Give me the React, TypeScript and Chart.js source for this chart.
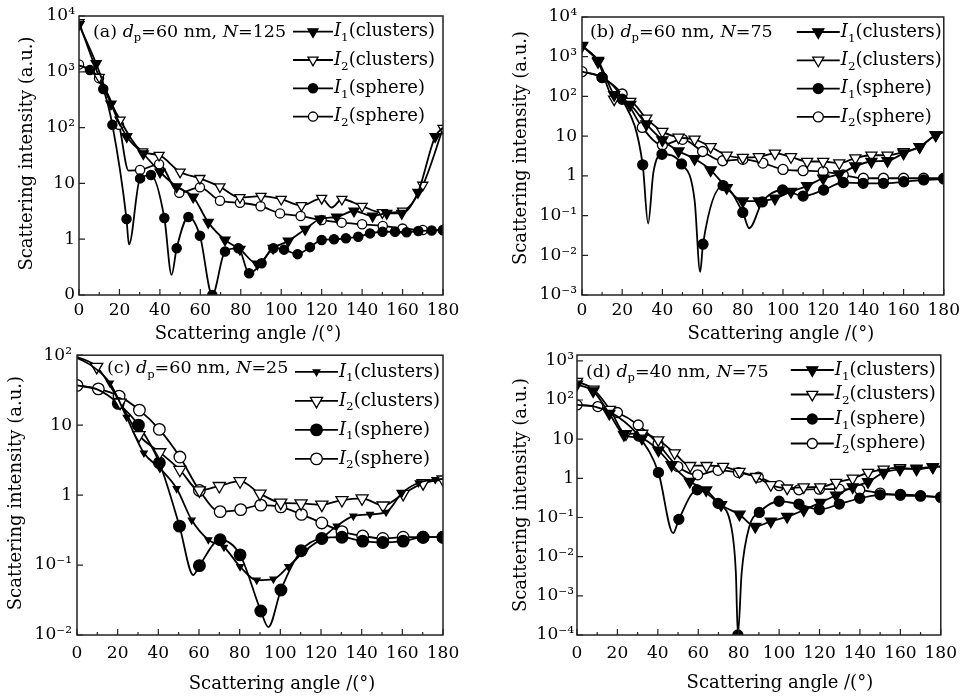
import React, { useEffect, useRef } from 'react';
import { Chart, registerables } from 'chart.js';

Chart.register(...registerables);

const FONT = "'DejaVu Serif', 'Liberation Serif', serif";

// ---------------- Panel (a) dp=60 nm, N=125 ----------------
const aI1cX = [0, 8.5, 15.8, 23.6, 31.8, 40.1, 48.3, 56.5, 63.9, 72.2, 79.6, 88.2, 96, 103.5, 111.8, 119.2, 127.4, 136, 145.2, 152.2, 159.6, 167.6, 176.1];
const aI1cY = [7000, 1400, 265, 69, 34, 16, 8.7, 5.7, 2.0, 0.97, 0.66, 0.36, 0.69, 0.93, 1.5, 2.3, 2.5, 3.2, 2.6, 2.9, 2.9, 6.9, 69];
const aI1cExX = [180];
const aI1cExY = [100];
const aI2cX = [0, 10, 20.3, 31.5, 39.6, 50, 59.8, 69.7, 79.6, 90, 100, 110, 120, 130, 140, 150, 160, 170, 180];
const aI2cY = [7600, 800, 137, 37, 32, 16, 12.3, 8.7, 5.6, 5.9, 5.2, 4.0, 5.4, 5.2, 3.9, 3.0, 3.2, 9.3, 97];
const aI2cExX = [125];
const aI2cExY = [3.7];
const aI1sX = [5.4, 12, 16.5, 23.5, 30.2, 35.6, 42.2, 48.3, 54.1, 59.8, 65.9, 72.2, 78.8, 84.1, 90.3, 96.1, 101.4, 108.1, 114.2, 120, 126.1, 132, 138.1, 143.9, 150.1, 156.3, 162, 167.8, 174.4, 180];
const aI1sY = [1080, 490, 112, 2.3, 12.3, 14.1, 2.4, 0.69, 2.5, 1.15, 0.1, 0.6, 0.69, 0.245, 0.37, 0.69, 0.65, 0.54, 0.72, 0.97, 1.0, 1.04, 1.11, 1.27, 1.36, 1.36, 1.33, 1.4, 1.43, 1.45];
const aI1sExX = [0, 24.7, 45.8];
const aI1sExY = [1300, 0.8, 0.23];
const aI2sX = [0, 9.9, 19.8, 30.2, 39.6, 49.6, 59.8, 69.7, 79.6, 89.8, 99.4, 109.6, 120, 129.9, 140, 150.2, 160, 170, 180];
const aI2sY = [1350, 770, 112, 17.4, 22, 6.8, 8.5, 4.9, 4.5, 3.9, 2.9, 2.6, 2.2, 1.98, 1.85, 1.73, 1.55, 1.46, 1.46];
const aI2sExX = [24.5];
const aI2sExY = [17];
const aYTicks = [0.1, 1, 10, 100, 1000, 10000];
const aYLabels = ['0', '1', '10', '10²', '10³', '10⁴'];

// ---------------- Panel (b) dp=60 nm, N=75 ----------------
const bI1cX = [0, 8, 16, 24, 32, 40, 48, 56, 64, 72, 80, 88, 96, 104, 112, 120, 128, 136, 144, 152, 160, 168, 176];
const bI1cY = [1900, 800, 110, 62, 20, 8, 4.2, 2.7, 1.4, 0.5, 0.23, 0.23, 0.27, 0.4, 0.56, 0.87, 1.1, 1.75, 2.3, 2.4, 3.7, 5.4, 10.7];
const bI1cExX = [180];
const bI1cExY = [12.6];
const bI2cX = [0, 8, 16, 24, 32, 40, 48, 56, 64, 72, 80, 88, 96, 104, 112, 120, 128, 136, 144, 152, 160, 168, 176];
const bI2cY = [1860, 740, 85, 74, 28, 13, 9.3, 8.3, 5.4, 3.3, 2.9, 3.0, 3.7, 3.0, 2.3, 2.3, 2.1, 2.8, 3.3, 3.3, 4.0, 5.4, 10.7];
const bI2cExX = [180];
const bI2cExY = [12.6];
const bI1sX = [10, 20, 30.2, 39.8, 49.5, 60.2, 70.2, 80, 89.7, 99.8, 110, 120.2, 130, 139.9, 150, 160.1, 170, 180];
const bI1sY = [300, 85, 1.9, 3.5, 2.0, 0.019, 0.57, 0.12, 0.22, 0.44, 0.31, 0.44, 0.68, 0.65, 0.65, 0.71, 0.79, 0.83];
const bI1sExX = [0, 32.9, 35.5, 56, 58.8, 83.2];
const bI1sExY = [420, 0.063, 1.2, 0.25, 0.0038, 0.048];
const bI2sX = [0, 10, 20, 30, 40, 50, 60, 70, 80, 90, 100, 110, 120, 130, 140, 150, 160, 170, 180];
const bI2sY = [420, 300, 115, 16.6, 6.0, 8.3, 4.1, 2.4, 2.6, 2.1, 1.45, 1.35, 1.28, 1.05, 0.87, 0.87, 0.87, 0.87, 0.87];
const bYTicks = [1e-3, 1e-2, 0.1, 1, 10, 100, 1000, 10000];
const bYLabels = ['10⁻³', '10⁻²', '10⁻¹', '1', '10', '10²', '10³', '10⁴'];

// ---------------- Panel (c) dp=60 nm, N=25 ----------------
const cI1cX = [16.2, 24.4, 32.9, 40.8, 49, 56.4, 64.6, 72.3, 80.2, 88.4, 96.6, 103.9, 112.2, 119.5, 127.7, 135.9, 144.1, 152, 159.7, 168, 176.2];
const cI1cY = [40, 13, 4, 2.4, 1.24, 0.44, 0.23, 0.18, 0.095, 0.061, 0.063, 0.095, 0.16, 0.23, 0.36, 0.5, 0.53, 0.57, 1.06, 1.5, 1.67];
const cI1cExX = [0, 8, 180];
const cI1cExY = [92, 68, 1.7];
const cI2cX = [9.7, 21.2, 30.5, 40.7, 50.6, 60.2, 70, 80.2, 90, 100.2, 110.2, 120.4, 130.3, 140.2, 150.5, 160.4, 170.2, 180];
const cI2cY = [68, 21, 7.2, 4.1, 2.3, 1.17, 1.35, 1.58, 1.05, 0.78, 0.76, 0.73, 0.85, 0.9, 0.71, 1.04, 1.48, 1.67];
const cI2cExX = [0];
const cI2cExY = [95];
const cI1sX = [20.3, 30.2, 40.5, 50.4, 60.2, 70.4, 80.2, 90.4, 100.3, 110.2, 120.4, 130.3, 140.5, 150.4, 160.4, 170.2, 180];
const cI1sY = [20.5, 10, 2.9, 0.36, 0.098, 0.23, 0.14, 0.022, 0.044, 0.16, 0.24, 0.25, 0.22, 0.21, 0.22, 0.25, 0.25];
const cI1sExX = [0, 10.5, 57.2, 94.1];
const cI1sExY = [37, 32, 0.072, 0.013];
const cI2sX = [0, 10.5, 20.7, 30.7, 40.5, 50.6, 60.2, 70.4, 80.5, 90.4, 100.3, 110.4, 120.4, 130.3, 140.5, 150.4, 160.4, 170.2, 180];
const cI2sY = [37, 33, 26, 16.4, 8.7, 3.5, 1.17, 0.58, 0.62, 0.72, 0.68, 0.53, 0.4, 0.3, 0.26, 0.24, 0.25, 0.25, 0.25];
const cYTicks = [0.01, 0.1, 1, 10, 100];
const cYLabels = ['10⁻²', '10⁻¹', '1', '10', '10²'];

// ---------------- Panel (d) dp=40 nm, N=75 ----------------
const dI1cX = [0, 8, 16, 23.2, 32.1, 40.3, 46.8, 55.8, 63.9, 71.3, 80.4, 88.2, 95.9, 104, 112.2, 120.4, 128.2, 136.4, 144, 151.7, 159.8, 168, 176];
const dI1cY = [250, 170, 45, 13, 10.5, 5.2, 2.2, 0.83, 0.5, 0.21, 0.12, 0.059, 0.08, 0.105, 0.155, 0.24, 0.37, 0.6, 0.81, 1.4, 1.7, 1.8, 1.95];
const dI1cExX = [180];
const dI1cExY = [2.0];
const dI2cX = [0, 8.2, 16.3, 24.2, 32.3, 40.2, 48.3, 56, 64.1, 72.3, 80.4, 88.6, 95.9, 104, 112.2, 120.4, 128.2, 136.4, 144, 151.7, 159.8, 168, 176.1];
const dI2cY = [295, 187, 57, 13.6, 14, 9.5, 4.4, 2.1, 2.1, 2.0, 1.48, 1.1, 0.68, 0.56, 0.6, 0.6, 0.78, 1.0, 1.4, 1.7, 1.85, 1.7, 1.95];
const dI2cExX = [180];
const dI2cExY = [2.0];
const dI1sX = [30.5, 40.3, 50.4, 59.5, 69.8, 79.6, 90.2, 100, 109.8, 119.9, 129.8, 139.9, 150, 160, 170, 180];
const dI1sY = [12, 1.4, 0.09, 0.51, 0.23, 0.0001, 0.135, 0.26, 0.22, 0.16, 0.22, 0.31, 0.38, 0.39, 0.36, 0.33];
const dI1sExX = [0, 10, 20, 47.6, 76.3, 78.6, 81.5, 85.3];
const dI1sExY = [75, 65, 38, 0.04, 0.059, 0.004, 0.004, 0.059];
const dI2sX = [0, 10.3, 20, 30.3, 40.1, 49.9, 59.7, 69.8, 79.9, 89.7, 100, 109.8, 119.9, 129.8, 139.9, 150, 160, 170, 180];
const dI2sY = [75, 68, 48, 23, 7.6, 2.0, 1.23, 1.6, 1.4, 1.07, 0.65, 0.51, 0.53, 0.53, 0.51, 0.42, 0.37, 0.35, 0.33];
const dYTicks = [1e-4, 1e-3, 1e-2, 0.1, 1, 10, 100, 1000];
const dYLabels = ['10⁻⁴', '10⁻³', '10⁻²', '10⁻¹', '1', '10', '10²', '10³'];

// ---------------- text ----------------
const seriesNames = ['(clusters)', '(clusters)', '(sphere)', '(sphere)'];
const seriesSubs = ['1', '2', '1', '2'];
const panelTags = ['(a)', '(b)', '(c)', '(d)'];
const panelDp = ['60', '60', '60', '40'];
const panelN = ['125', '75', '25', '75'];
const xTitle = 'Scattering angle /(°)';
const yTitle = 'Scattering intensity (a.u.)';

function pts(xs: number[], ys: number[], ex: number[] = [], ey: number[] = []) {
  const p: any[] = xs.map((x, i) => ({ x, y: ys[i], m: true }));
  ex.forEach((x, i) => p.push({ x, y: ey[i], m: false }));
  p.sort((a, b) => a.x - b.x);
  return p;
}

const panels: any[] = [
  {
    idx: 0, left: 0, top: 0, w: 480, h: 360, yW: 79, padTop: 16, padRight: 37, xH: 65,
    yMin: 0.1, yMax: 10000, yTicks: aYTicks, yLabels: aYLabels, xPad: 5, yPad: 4,
    rTri: 5.8, rTriSmall: 5.8, rCirc: 4.6,
    tagDx: 14, tagDy: 16, legDx: 150, legDy: 15.7, legGap: 28.3, legLen: 40,
    xtDx: -13, xtDy: 39, ytX: 27, ytDy: -2,
    series: [pts(aI1cX, aI1cY, aI1cExX, aI1cExY), pts(aI2cX, aI2cY, aI2cExX, aI2cExY), pts(aI1sX, aI1sY, aI1sExX, aI1sExY), pts(aI2sX, aI2sY, aI2sExX, aI2sExY)],
  },
  {
    idx: 1, left: 480, top: 0, w: 485, h: 360, yW: 102, padTop: 17, padRight: 18, xH: 65,
    yMin: 1e-3, yMax: 1e4, yTicks: bYTicks, yLabels: bYLabels, xPad: 5, yPad: 5,
    rTri: 6.4, rTriSmall: 6.4, rCirc: 5,
    tagDx: 8, tagDy: 15, legDx: 147, legDy: 15, legGap: 28.3, legLen: 43,
    xtDx: 18, xtDy: 39, ytX: 41, ytDy: -8,
    series: [pts(bI1cX, bI1cY, bI1cExX, bI1cExY), pts(bI2cX, bI2cY, bI2cExX, bI2cExY), pts(bI1sX, bI1sY, bI1sExX, bI1sExY), pts(bI2sX, bI2sY)],
  },
  {
    idx: 2, left: 0, top: 340, w: 480, h: 357, yW: 77, padTop: 15, padRight: 37, xH: 62,
    yMin: 0.01, yMax: 100, yTicks: cYTicks, yLabels: cYLabels, xPad: 8, yPad: 5,
    rTri: 7, rTriSmall: 3.8, rCirc: 5.8,
    tagDx: 30, tagDy: 13, legDx: 148, legDy: 16.7, legGap: 29, legLen: 43,
    xtDx: 22, xtDy: 49, ytX: 16, ytDy: -2,
    series: [pts(cI1cX, cI1cY, cI1cExX, cI1cExY), pts(cI2cX, cI2cY, cI2cExX, cI2cExY), pts(cI1sX, cI1sY, cI1sExX, cI1sExY), pts(cI2sX, cI2sY)],
  },
  {
    idx: 3, left: 480, top: 340, w: 485, h: 357, yW: 97, padTop: 15, padRight: 20, xH: 62,
    yMin: 1e-4, yMax: 1410, yTicks: dYTicks, yLabels: dYLabels, xPad: 8, yPad: 3,
    rTri: 6.4, rTriSmall: 6.4, rCirc: 5,
    tagDx: 9, tagDy: 17, legDx: 150, legDy: 15, legGap: 24.5, legLen: 43,
    xtDx: 21, xtDy: 48, ytX: 41, ytDy: 0,
    series: [pts(dI1cX, dI1cY, dI1cExX, dI1cExY), pts(dI2cX, dI2cY, dI2cExX, dI2cExY), pts(dI1sX, dI1sY, dI1sExX, dI1sExY), pts(dI2sX, dI2sY)],
  },
];

const kinds = [
  { tri: true, filled: true, small: true },
  { tri: true, filled: false, small: false },
  { tri: false, filled: true, small: false },
  { tri: false, filled: false, small: false },
];

function drawMarker(ctx: CanvasRenderingContext2D, tri: boolean, x: number, y: number, r: number, filled: boolean) {
  ctx.beginPath();
  if (tri) {
    let rad = Math.PI;
    ctx.moveTo(x + Math.sin(rad) * r, y - Math.cos(rad) * r);
    rad += (2 * Math.PI) / 3;
    ctx.lineTo(x + Math.sin(rad) * r, y - Math.cos(rad) * r);
    rad += (2 * Math.PI) / 3;
    ctx.lineTo(x + Math.sin(rad) * r, y - Math.cos(rad) * r);
    ctx.closePath();
  } else {
    ctx.arc(x, y, r, 0, Math.PI * 2);
  }
  ctx.fillStyle = filled ? '#000' : '#fff';
  ctx.fill();
  ctx.lineWidth = 1.3;
  ctx.strokeStyle = '#000';
  ctx.stroke();
}

function drawRich(ctx: CanvasRenderingContext2D, x: number, y: number, segs: any[], size: number) {
  let cx = x;
  for (const s of segs) {
    const fs = s.sub ? size * 0.66 : size;
    ctx.font = `${s.it ? 'italic ' : ''}${fs}px ${FONT}`;
    ctx.fillText(s.t, cx, s.sub ? y + size * 0.36 : y);
    cx += ctx.measureText(s.t).width;
  }
}

function makeDecor(cfg: any) {
  return {
    id: 'decor' + cfg.idx,
    afterDraw(chart: any) {
      const { ctx, chartArea: a, scales } = chart;
      ctx.save();
      ctx.strokeStyle = '#222';
      ctx.lineWidth = 1.5;
      ctx.strokeRect(a.left, a.top, a.right - a.left, a.bottom - a.top);
      ctx.lineWidth = 1.2;
      ctx.beginPath();
      for (let v = 0; v <= 180; v += 10) {
        const px = scales.x.getPixelForValue(v);
        const len = v % 20 === 0 ? 6 : 3;
        ctx.moveTo(px, a.bottom);
        ctx.lineTo(px, a.bottom - len);
      }
      for (const v of cfg.yTicks) {
        const py = scales.y.getPixelForValue(v);
        ctx.moveTo(a.left, py);
        ctx.lineTo(a.left + 6, py);
      }
      ctx.stroke();

      ctx.fillStyle = '#000';
      ctx.textBaseline = 'middle';
      ctx.textAlign = 'left';
      const i = cfg.idx;
      drawRich(ctx, a.left + cfg.tagDx, a.top + cfg.tagDy, [
        { t: panelTags[i] + ' ' },
        { t: 'd', it: true },
        { t: 'p', sub: true },
        { t: '=' + panelDp[i] + ' nm, ' },
        { t: 'N', it: true },
        { t: '=' + panelN[i] },
      ], 17.5);

      for (let k = 0; k < 4; k++) {
        const y = a.top + cfg.legDy + k * cfg.legGap;
        const x0 = a.right - cfg.legDx;
        ctx.strokeStyle = '#000';
        ctx.lineWidth = 1.8;
        ctx.beginPath();
        ctx.moveTo(x0, y);
        ctx.lineTo(x0 + cfg.legLen, y);
        ctx.stroke();
        const kd = kinds[k];
        const r = kd.tri ? (kd.small ? cfg.rTriSmall : cfg.rTri) : cfg.rCirc;
        drawMarker(ctx, kd.tri, x0 + cfg.legLen / 2, y, r, kd.filled);
        ctx.fillStyle = '#000';
        drawRich(ctx, x0 + cfg.legLen + 1, y, [
          { t: 'I', it: true },
          { t: seriesSubs[k], sub: true },
          { t: seriesNames[k] },
        ], 18);
      }

      ctx.font = `18px ${FONT}`;
      ctx.textAlign = 'center';
      ctx.fillStyle = '#000';
      ctx.fillText(xTitle, (a.left + a.right) / 2 + cfg.xtDx, a.bottom + cfg.xtDy);
      ctx.save();
      ctx.translate(cfg.ytX, (a.top + a.bottom) / 2 + cfg.ytDy);
      ctx.rotate(-Math.PI / 2);
      ctx.fillText(yTitle, 0, 0);
      ctx.restore();
      ctx.restore();
    },
  };
}

function Panel({ cfg }: { cfg: any }) {
  const ref = useRef<HTMLCanvasElement>(null);
  useEffect(() => {
    const datasets = cfg.series.map((data: any[], k: number) => {
      const kd = kinds[k];
      const r = kd.tri ? (kd.small ? cfg.rTriSmall : cfg.rTri) : cfg.rCirc;
      return {
        data,
        borderColor: '#000',
        borderWidth: 1.8,
        pointStyle: kd.tri ? 'triangle' : 'circle',
        pointRotation: kd.tri ? 180 : 0,
        pointRadius: (c: any) => (c.raw && c.raw.m ? r : 0),
        pointBackgroundColor: kd.filled ? '#000' : '#fff',
        pointBorderColor: '#000',
        pointBorderWidth: 1.3,
        cubicInterpolationMode: 'monotone',
        tension: 0.4,
        fill: false,
      };
    });
    const tickFont = { size: 17, family: FONT };
    const chart = new Chart(ref.current as HTMLCanvasElement, {
      type: 'line',
      data: { datasets },
      options: {
        animation: false,
        responsive: false,
        events: [],
        layout: { padding: { top: cfg.padTop, right: cfg.padRight, left: 0, bottom: 0 } },
        plugins: { legend: { display: false }, tooltip: { enabled: false } },
        scales: {
          x: {
            type: 'linear',
            min: 0,
            max: 180,
            ticks: { stepSize: 20, autoSkip: false, maxRotation: 0, padding: cfg.xPad, color: '#000', font: tickFont },
            grid: { display: false, drawTicks: false },
            border: { display: false },
            afterFit: (s: any) => { s.height = cfg.xH; },
          },
          y: {
            type: 'logarithmic',
            min: cfg.yMin,
            max: cfg.yMax,
            ticks: {
              autoSkip: false,
              padding: cfg.yPad,
              color: '#000',
              font: tickFont,
              callback: (_v: any, i: number) => cfg.yLabels[i],
            },
            afterBuildTicks: (s: any) => { s.ticks = cfg.yTicks.map((v: number) => ({ value: v })); },
            grid: { display: false, drawTicks: false },
            border: { display: false },
            afterFit: (s: any) => { s.width = cfg.yW; },
          },
        },
      } as any,
      plugins: [makeDecor(cfg)],
    });
    return () => chart.destroy();
  }, []);
  return (
    <div style={{ position: 'absolute', left: cfg.left, top: cfg.top, width: cfg.w, height: cfg.h }}>
      <canvas ref={ref} width={cfg.w} height={cfg.h} style={{ width: cfg.w, height: cfg.h, display: 'block' }} />
    </div>
  );
}

export default function App() {
  return (
    <div style={{ position: 'absolute', left: 0, top: 0, width: 965, height: 697, background: '#fff', overflow: 'hidden' }}>
      {panels.map((p) => (
        <Panel key={p.idx} cfg={p} />
      ))}
    </div>
  );
}
